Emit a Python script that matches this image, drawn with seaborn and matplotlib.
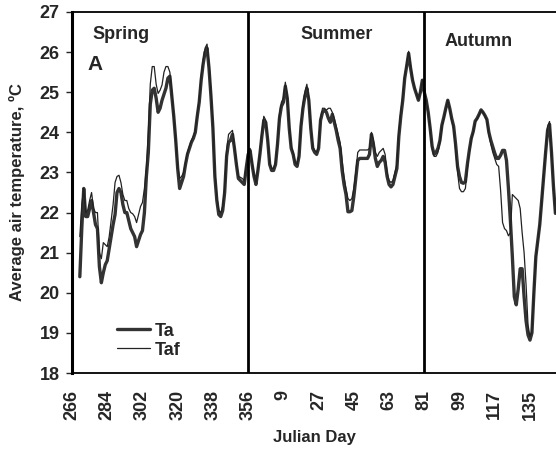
import numpy as np
import pandas as pd
import matplotlib
matplotlib.use("Agg")
import matplotlib.pyplot as plt
import seaborn as sns

# tick labels (Julian day), one every 18 days, the series runs on past 365
tick_days = [266, 284, 302, 320, 338, 356, 9, 27, 45, 63, 81, 99, 117, 135]
season_names = ["Spring", "Summer", "Autumn"]
season_breaks = [356, 81]

# daily mean air temperature, days 270 .. 147
ta = [20.4, 21.6, 22.6, 21.9, 21.9, 22.1, 22.3, 22.0, 21.7, 21.6,
      20.65, 20.25, 20.5, 20.7, 20.8, 21.1, 21.4, 21.7, 21.95, 22.5,
      22.6, 22.5, 22.2, 22.0, 22.0, 21.8, 21.6, 21.5, 21.4, 21.15,
      21.3, 21.45, 21.55, 22.0, 22.9, 23.5, 24.7, 25.05, 25.1, 24.85,
      24.5, 24.6, 24.8, 24.95, 25.1, 25.35, 25.4, 24.9, 24.4, 23.8,
      23.1, 22.6, 22.75, 22.9, 23.2, 23.45, 23.6, 23.75, 23.85, 24.0,
      24.4, 24.75, 25.3, 25.7, 26.0, 26.1, 25.6, 24.9, 24.1, 22.9,
      22.3, 21.95, 21.9, 22.05, 22.5, 23.4, 23.75, 23.8, 23.95, 23.6,
      23.2, 22.85, 22.8, 22.75, 22.7, 23.1, 23.45, 23.55, 23.2, 22.9,
      22.7, 23.05, 23.45, 23.9, 24.3, 24.25, 23.8, 23.2, 23.05, 23.05,
      23.2, 23.7, 24.35, 24.65, 24.75, 25.15, 24.85, 24.1, 23.6, 23.45,
      23.2, 23.15, 23.4, 24.15, 24.6, 24.9, 25.1, 24.8, 24.1, 23.6,
      23.5, 23.45, 23.6, 24.3, 24.5, 24.55, 24.5, 24.35, 24.25, 24.45,
      24.25, 24.05, 23.8, 23.6, 23.05, 22.7, 22.45, 22.02, 22.02, 22.05,
      22.4, 22.85, 23.3, 23.35, 23.35, 23.35, 23.35, 23.35, 23.45, 23.95,
      23.7, 23.35, 23.15, 23.25, 23.3, 23.4, 23.25, 22.9, 22.7, 22.64,
      22.7, 22.9, 23.1, 23.9, 24.4, 24.8, 25.35, 25.65, 25.97, 25.6,
      25.3, 25.1, 24.95, 24.8, 25.0, 25.3, 25.0, 24.8, 24.5, 24.1,
      23.65, 23.45, 23.5, 23.6, 23.8, 24.18, 24.38, 24.6, 24.8, 24.6,
      24.35, 24.15, 23.7, 23.15, 22.9, 22.75, 22.73, 22.77, 23.2, 23.55,
      23.85, 24.02, 24.28, 24.35, 24.45, 24.56, 24.5, 24.42, 24.32, 24.0,
      23.8, 23.64, 23.48, 23.35, 23.35, 23.43, 23.55, 23.55, 23.3, 22.6,
      21.8, 20.9, 19.9, 19.7, 20.1, 20.6, 20.6, 19.9, 19.3, 18.95,
      18.82, 19.0, 20.0, 20.9, 21.3, 21.7, 22.3, 22.9, 23.5, 24.05,
      24.2, 23.5, 22.65, 21.98]

taf = [21.4, 22.2, 22.6, 22.0, 22.05, 22.3, 22.5, 22.1, 22.0, 22.0,
       21.0, 20.85, 21.25, 21.2, 21.15, 21.4, 21.8, 22.2, 22.75, 22.9,
       22.93, 22.75, 22.45, 22.3, 22.3, 22.1, 22.0, 21.97, 21.9, 21.75,
       21.95, 22.15, 22.25, 22.6, 23.1, 24.0, 25.2, 25.64, 25.64, 25.2,
       24.97, 25.05, 25.18, 25.5, 25.64, 25.64, 25.5, 25.0, 24.4, 23.8,
       23.15, 22.85, 22.9, 23.0, 23.25, 23.5, 23.65, 23.8, 23.9, 24.05,
       24.45, 24.8, 25.4, 25.8, 26.1, 26.2, 25.7, 25.0, 24.2, 23.0,
       22.4, 22.05, 22.0, 22.15, 22.6, 23.55, 23.95, 24.0, 24.05, 23.65,
       23.25, 22.9, 22.88, 22.85, 22.8, 23.15, 23.55, 23.6, 23.25, 22.95,
       22.75, 23.1, 23.5, 24.0, 24.4, 24.3, 23.85, 23.25, 23.1, 23.1,
       23.25, 23.75, 24.45, 24.75, 24.85, 25.25, 24.9, 24.15, 23.65, 23.5,
       23.25, 23.2, 23.45, 24.2, 24.7, 25.0, 25.2, 24.85, 24.15, 23.65,
       23.55, 23.5, 23.65, 24.35, 24.6, 24.6, 24.55, 24.6, 24.6, 24.5,
       24.35, 24.15, 23.95, 23.75, 23.3, 22.9, 22.6, 22.35, 22.3, 22.35,
       22.6, 23.0, 23.5, 23.56, 23.56, 23.56, 23.56, 23.56, 23.6, 24.0,
       23.8, 23.5, 23.4, 23.5, 23.55, 23.6, 23.45, 23.0, 22.8, 22.75,
       22.8, 23.0, 23.2, 24.0, 24.5, 24.9, 25.4, 25.7, 26.02, 25.65,
       25.35, 25.12, 24.97, 24.82, 25.02, 25.3, 25.0, 24.8, 24.5, 24.1,
       23.6, 23.4, 23.4, 23.5, 23.75, 24.15, 24.35, 24.58, 24.8, 24.58,
       24.3, 24.1, 23.6, 23.0, 22.6, 22.52, 22.52, 22.6, 23.1, 23.5,
       23.82, 24.0, 24.25, 24.33, 24.43, 24.55, 24.5, 24.4, 24.3, 23.95,
       23.7, 23.5, 23.35, 23.2, 23.15, 22.55, 21.75, 21.6, 21.55, 21.42,
       21.5, 22.45, 22.4, 22.35, 22.3, 22.1, 21.5, 21.0, 20.2, 19.2,
       18.9, 19.05, 20.05, 20.9, 21.3, 21.7, 22.3, 22.95, 23.55, 24.15,
       24.27, 23.55, 22.7, 22.0]

first_day = 266   # axis origin
start_offset = 4  # first record is day 270

sns.set_style("white")
plt.rcParams["font.family"] = ["Liberation Sans", "DejaVu Sans"]
plt.rcParams["font.weight"] = "bold"


def day_to_pos(d):
    # position along the axis, counting on past the new year
    return (d - first_day) % 365


pos = np.arange(start_offset, start_offset + len(ta))
df = pd.DataFrame({"pos": pos, "Ta": ta, "Taf": taf})

fig = plt.figure(figsize=(5.56, 4.49), dpi=100)
ax = fig.add_axes([72 / 556, 1 - 373 / 449, 1 - 72 / 556, (373 - 12) / 449])

sns.lineplot(data=df, x="pos", y="Ta", ax=ax, color="#333333", lw=2.4, label="Ta")
sns.lineplot(data=df, x="pos", y="Taf", ax=ax, color="#222222", lw=0.9, label="Taf")

for d in season_breaks:
    ax.axvline(day_to_pos(d), color="black", lw=2)

ax.set_xlim(0, 247.3)
ax.set_ylim(18, 27)
ax.set_yticks(range(18, 28))
ax.set_xticks([day_to_pos(d) for d in tick_days])
ax.set_xticklabels([str(d) for d in tick_days], rotation=90, fontsize=13, fontweight="bold")
ax.tick_params(axis="y", labelsize=13, length=4, width=1, direction="out", left=True, pad=5)
ax.tick_params(axis="x", length=0, pad=12)
for lab in ax.get_yticklabels():
    lab.set_fontweight("bold")

ax.set_xlabel("Julian Day", fontsize=12, fontweight="bold", labelpad=7)
ax.set_ylabel("Average air temperature, ºC", fontsize=12, fontweight="bold", labelpad=10)

ax.spines["right"].set_visible(False)
ax.spines["left"].set_linewidth(2.2)
ax.spines["left"].set_color("black")
ax.spines["bottom"].set_linewidth(1.3)
ax.spines["bottom"].set_color("black")
ax.spines["top"].set_linewidth(1.3)
ax.spines["top"].set_color("black")

ax.text(10.7, 26.45, season_names[0], fontsize=13, fontweight="bold", va="center")
ax.text(116.5, 26.45, season_names[1], fontsize=13, fontweight="bold", va="center")
ax.text(190.6, 26.27, season_names[2], fontsize=13, fontweight="bold", va="center")
ax.text(7.7, 25.68, "A", fontsize=15, fontweight="bold", va="center")

leg = ax.legend(loc="lower left", bbox_to_anchor=(0.093, 0.04), frameon=False,
                borderpad=0, borderaxespad=0, handlelength=1.8, handletextpad=0.3,
                labelspacing=0.1, prop={"size": 13, "weight": "bold"})

fig.savefig("out.png", dpi=100)
